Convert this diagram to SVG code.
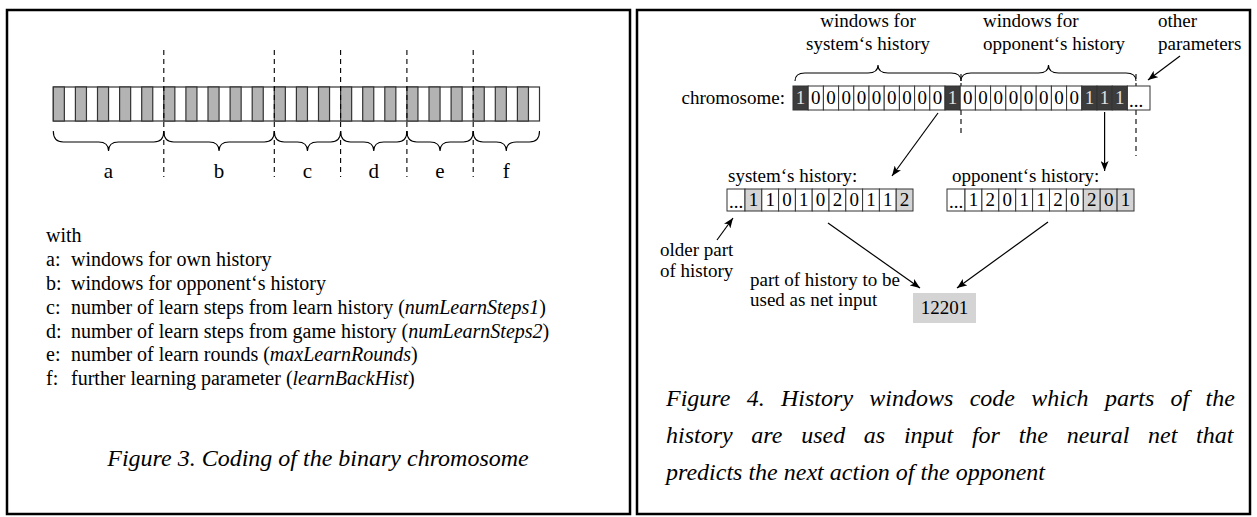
<svg xmlns="http://www.w3.org/2000/svg" width="1257" height="517" viewBox="0 0 1257 517" font-family="'Liberation Serif', 'Times New Roman', serif">
  <defs>
    <style>
      text { font-family: "Liberation Serif", "Times New Roman", serif; fill: #000; }
      .body { font-size: 19px; }
      .list { font-size: 20px; }
      .lab { font-size: 21px; }
      .cap { font-size: 24px; font-style: italic; }
      .it { font-style: italic; }
      .frame { fill: none; stroke: #000; stroke-width: 2.5; }
      .bar { fill: #fff; stroke: #333; stroke-width: 1.2; }
      .g { fill: #b3b3b3; stroke: #333; stroke-width: 1.2; }
      .dash { stroke: #000; stroke-width: 1.1; stroke-dasharray: 5 4; fill: none; }
      .brace { fill: none; stroke: #000; stroke-width: 1.1; }
      .cell { fill: #fff; stroke: #333; stroke-width: 1; }
      .dark { fill: #3c3c3c; stroke: #333; stroke-width: 1; }
      .light { fill: #d4d4d4; stroke: #333; stroke-width: 1; }
      .dig { font-size: 19px; text-anchor: middle; }
      .dd { fill: #e0e0e0; }
      .arrow { stroke: #000; stroke-width: 1.2; fill: none; marker-end: url(#ah); }
    </style>
    <marker id="ah" viewBox="0 0 10 8" refX="10" refY="4" markerWidth="10" markerHeight="8" markerUnits="userSpaceOnUse" orient="auto">
      <path d="M0,0 L10,4 L0,8 L2.5,4 z" fill="#000"/>
    </marker>
  </defs>

  <rect width="1257" height="517" fill="#fff"/>

  <!-- Figure 3: binary chromosome -->
  <g id="fig3">
    <rect class="frame" x="7" y="10" width="623" height="504"/>

    <g id="bar">
      <rect class="bar" x="53.3" y="87" width="486.2" height="34"/>
      <rect class="g" x="53.3" y="87" width="11.05" height="34"/>
      <rect class="g" x="75.4" y="87" width="11.05" height="34"/>
      <rect class="g" x="97.5" y="87" width="11.05" height="34"/>
      <rect class="g" x="119.6" y="87" width="11.05" height="34"/>
      <rect class="g" x="141.7" y="87" width="11.05" height="34"/>
      <rect class="g" x="163.8" y="87" width="11.05" height="34"/>
      <rect class="g" x="185.9" y="87" width="11.05" height="34"/>
      <rect class="g" x="208" y="87" width="11.05" height="34"/>
      <rect class="g" x="230.1" y="87" width="11.05" height="34"/>
      <rect class="g" x="252.2" y="87" width="11.05" height="34"/>
      <rect class="g" x="274.3" y="87" width="11.05" height="34"/>
      <rect class="g" x="296.4" y="87" width="11.05" height="34"/>
      <rect class="g" x="318.5" y="87" width="11.05" height="34"/>
      <rect class="g" x="340.6" y="87" width="11.05" height="34"/>
      <rect class="g" x="362.7" y="87" width="11.05" height="34"/>
      <rect class="g" x="384.8" y="87" width="11.05" height="34"/>
      <rect class="g" x="406.9" y="87" width="11.05" height="34"/>
      <rect class="g" x="429" y="87" width="11.05" height="34"/>
      <rect class="g" x="451.1" y="87" width="11.05" height="34"/>
      <rect class="g" x="473.2" y="87" width="11.05" height="34"/>
      <rect class="g" x="495.3" y="87" width="11.05" height="34"/>
      <rect class="g" x="517.4" y="87" width="11.05" height="34"/>
    </g>

    <g id="separators">
      <line class="dash" x1="163.8" y1="50" x2="163.8" y2="177"/>
      <line class="dash" x1="274.3" y1="50" x2="274.3" y2="177"/>
      <line class="dash" x1="340.6" y1="50" x2="340.6" y2="177"/>
      <line class="dash" x1="406.9" y1="50" x2="406.9" y2="177"/>
      <line class="dash" x1="473.2" y1="50" x2="473.2" y2="177"/>
    </g>

    <g id="segments">
      <path class="brace" d="M53.3,131 Q53.3,142 63.3,142 L98.55,142 Q108.55,142 108.55,151 Q108.55,142 118.55,142 L153.8,142 Q163.8,142 163.8,131"/>
      <path class="brace" d="M163.8,131 Q163.8,142 173.8,142 L209.05,142 Q219.05,142 219.05,151 Q219.05,142 229.05,142 L264.3,142 Q274.3,142 274.3,131"/>
      <path class="brace" d="M274.3,131 Q274.3,142 284.3,142 L297.45,142 Q307.45,142 307.45,151 Q307.45,142 317.45,142 L330.6,142 Q340.6,142 340.6,131"/>
      <path class="brace" d="M340.6,131 Q340.6,142 350.6,142 L363.75,142 Q373.75,142 373.75,151 Q373.75,142 383.75,142 L396.9,142 Q406.9,142 406.9,131"/>
      <path class="brace" d="M406.9,131 Q406.9,142 416.9,142 L430.05,142 Q440.05,142 440.05,151 Q440.05,142 450.05,142 L463.2,142 Q473.2,142 473.2,131"/>
      <path class="brace" d="M473.2,131 Q473.2,142 483.2,142 L496.35,142 Q506.35,142 506.35,151 Q506.35,142 516.35,142 L529.5,142 Q539.5,142 539.5,131"/>
      <text class="lab" x="108.5" y="178" text-anchor="middle">a</text>
      <text class="lab" x="219" y="178" text-anchor="middle">b</text>
      <text class="lab" x="307.5" y="178" text-anchor="middle">c</text>
      <text class="lab" x="373.7" y="178" text-anchor="middle">d</text>
      <text class="lab" x="440" y="178" text-anchor="middle">e</text>
      <text class="lab" x="506.3" y="178" text-anchor="middle">f</text>
    </g>

    <g id="legend" class="list">
      <text x="46" y="242">with</text>
      <text x="46" y="266">a:</text><text x="71" y="266">windows for own history</text>
      <text x="46" y="290">b:</text><text x="71" y="290">windows for opponent‘s history</text>
      <text x="46" y="313.5">c:</text><text x="71" y="313.5">number of learn steps from learn history (<tspan class="it">numLearnSteps1</tspan>)</text>
      <text x="46" y="337.5">d:</text><text x="71" y="337.5">number of learn steps from game history (<tspan class="it">numLearnSteps2</tspan>)</text>
      <text x="46" y="361">e:</text><text x="71" y="361">number of learn rounds (<tspan class="it">maxLearnRounds</tspan>)</text>
      <text x="46" y="385">f:</text><text x="71" y="385">further learning parameter (<tspan class="it">learnBackHist</tspan>)</text>
    </g>

    <text class="cap" x="318" y="466" text-anchor="middle">Figure 3. Coding of the binary chromosome</text>
  </g>

  <!-- Figure 4: history windows -->
  <g id="fig4">
    <rect class="frame" x="637" y="10" width="613" height="504"/>

    <g id="headers" class="body">
      <text x="868" y="27" text-anchor="middle">windows for</text>
      <text x="868" y="50" text-anchor="middle">system‘s history</text>
      <text x="983" y="27">windows for</text>
      <text x="983" y="50">opponent‘s history</text>
      <text x="1158" y="27">other</text>
      <text x="1158" y="50">parameters</text>
    </g>

    <g id="connectors">
      <line class="dash" x1="961" y1="74" x2="961" y2="134"/>
      <line class="dash" x1="1136" y1="74" x2="1136" y2="156"/>
      <path class="brace" d="M795,81 Q795,73 805,73 L868,73 Q878,73 878,65 Q878,73 888,73 L951,73 Q961,73 961,81"/>
      <path class="brace" d="M961,81 Q961,73 971,73 L1038.5,73 Q1048.5,73 1048.5,65 Q1048.5,73 1058.5,73 L1126,73 Q1136,73 1136,81"/>
      <line class="arrow" x1="1180" y1="56" x2="1148" y2="80"/>
      <line class="arrow" x1="938" y1="113" x2="892" y2="176"/>
      <line class="arrow" x1="1104.6" y1="112" x2="1104.6" y2="171"/>
      <line class="arrow" x1="717" y1="240" x2="733" y2="218"/>
      <line class="arrow" x1="828" y1="223" x2="920" y2="288"/>
      <line class="arrow" x1="1048" y1="222" x2="957" y2="288"/>
    </g>

    <g id="chromosome">
      <text class="body" x="785" y="104" text-anchor="end" font-size="20">chromosome:</text>
      <rect class="dark" x="793" y="86" width="15.2" height="24"/><text class="dig dd" x="800.6" y="104">1</text>
      <rect class="cell" x="808.2" y="86" width="15.2" height="24"/><text class="dig" x="815.8" y="104">0</text>
      <rect class="cell" x="823.4" y="86" width="15.2" height="24"/><text class="dig" x="831" y="104">0</text>
      <rect class="cell" x="838.6" y="86" width="15.2" height="24"/><text class="dig" x="846.2" y="104">0</text>
      <rect class="cell" x="853.8" y="86" width="15.2" height="24"/><text class="dig" x="861.4" y="104">0</text>
      <rect class="cell" x="869" y="86" width="15.2" height="24"/><text class="dig" x="876.6" y="104">0</text>
      <rect class="cell" x="884.2" y="86" width="15.2" height="24"/><text class="dig" x="891.8" y="104">0</text>
      <rect class="cell" x="899.4" y="86" width="15.2" height="24"/><text class="dig" x="907" y="104">0</text>
      <rect class="cell" x="914.6" y="86" width="15.2" height="24"/><text class="dig" x="922.2" y="104">0</text>
      <rect class="cell" x="929.8" y="86" width="15.2" height="24"/><text class="dig" x="937.4" y="104">0</text>
      <rect class="dark" x="945" y="86" width="15.2" height="24"/><text class="dig dd" x="952.6" y="104">1</text>
      <rect class="cell" x="960.2" y="86" width="15.2" height="24"/><text class="dig" x="967.8" y="104">0</text>
      <rect class="cell" x="975.4" y="86" width="15.2" height="24"/><text class="dig" x="983" y="104">0</text>
      <rect class="cell" x="990.6" y="86" width="15.2" height="24"/><text class="dig" x="998.2" y="104">0</text>
      <rect class="cell" x="1005.8" y="86" width="15.2" height="24"/><text class="dig" x="1013.4" y="104">0</text>
      <rect class="cell" x="1021" y="86" width="15.2" height="24"/><text class="dig" x="1028.6" y="104">0</text>
      <rect class="cell" x="1036.2" y="86" width="15.2" height="24"/><text class="dig" x="1043.8" y="104">0</text>
      <rect class="cell" x="1051.4" y="86" width="15.2" height="24"/><text class="dig" x="1059" y="104">0</text>
      <rect class="cell" x="1066.6" y="86" width="15.2" height="24"/><text class="dig" x="1074.2" y="104">0</text>
      <rect class="dark" x="1081.8" y="86" width="15.2" height="24"/><text class="dig dd" x="1089.4" y="104">1</text>
      <rect class="dark" x="1097" y="86" width="15.2" height="24"/><text class="dig dd" x="1104.6" y="104">1</text>
      <rect class="dark" x="1112.2" y="86" width="15.2" height="24"/><text class="dig dd" x="1119.8" y="104">1</text>
      <rect class="cell" x="1127.4" y="86" width="22.6" height="24"/><text class="dig" x="1136" y="107">...</text>
    </g>

    <g id="system-history">
      <text class="body" x="728" y="182">system‘s history:</text>
      <rect class="cell" x="727" y="189" width="18" height="22"/><text class="dig" x="736" y="208">...</text>
      <rect class="light" x="745" y="189" width="16.8" height="22"/><text class="dig" x="753.4" y="206">1</text>
      <rect class="cell" x="761.8" y="189" width="16.8" height="22"/><text class="dig" x="770.2" y="206">1</text>
      <rect class="cell" x="778.6" y="189" width="16.8" height="22"/><text class="dig" x="787" y="206">0</text>
      <rect class="cell" x="795.4" y="189" width="16.8" height="22"/><text class="dig" x="803.8" y="206">1</text>
      <rect class="cell" x="812.2" y="189" width="16.8" height="22"/><text class="dig" x="820.6" y="206">0</text>
      <rect class="cell" x="829" y="189" width="16.8" height="22"/><text class="dig" x="837.4" y="206">2</text>
      <rect class="cell" x="845.8" y="189" width="16.8" height="22"/><text class="dig" x="854.2" y="206">0</text>
      <rect class="cell" x="862.6" y="189" width="16.8" height="22"/><text class="dig" x="871" y="206">1</text>
      <rect class="cell" x="879.4" y="189" width="16.8" height="22"/><text class="dig" x="887.8" y="206">1</text>
      <rect class="light" x="896.2" y="189" width="16.8" height="22"/><text class="dig" x="904.6" y="206">2</text>
    </g>

    <g id="opponent-history">
      <text class="body" x="952" y="182">opponent‘s history:</text>
      <rect class="cell" x="947" y="189" width="18" height="22"/><text class="dig" x="956" y="208">...</text>
      <rect class="cell" x="965" y="189" width="16.9" height="22"/><text class="dig" x="973.45" y="206">1</text>
      <rect class="cell" x="981.9" y="189" width="16.9" height="22"/><text class="dig" x="990.35" y="206">2</text>
      <rect class="cell" x="998.8" y="189" width="16.9" height="22"/><text class="dig" x="1007.25" y="206">0</text>
      <rect class="cell" x="1015.7" y="189" width="16.9" height="22"/><text class="dig" x="1024.15" y="206">1</text>
      <rect class="cell" x="1032.6" y="189" width="16.9" height="22"/><text class="dig" x="1041.05" y="206">1</text>
      <rect class="cell" x="1049.5" y="189" width="16.9" height="22"/><text class="dig" x="1057.95" y="206">2</text>
      <rect class="cell" x="1066.4" y="189" width="16.9" height="22"/><text class="dig" x="1074.85" y="206">0</text>
      <rect class="light" x="1083.3" y="189" width="16.9" height="22"/><text class="dig" x="1091.75" y="206">2</text>
      <rect class="light" x="1100.2" y="189" width="16.9" height="22"/><text class="dig" x="1108.65" y="206">0</text>
      <rect class="light" x="1117.1" y="189" width="16.9" height="22"/><text class="dig" x="1125.55" y="206">1</text>
    </g>

    <g id="older-note" class="body">
      <text x="660" y="256">older part</text>
      <text x="660" y="277">of history</text>
    </g>

    <g id="net-input">
      <text class="body" x="750" y="286">part of history to be</text>
      <text class="body" x="750" y="306">used as net input</text>
      <rect x="913" y="293" width="63" height="30" fill="#d4d4d4"/>
      <text class="body" x="944.5" y="314" text-anchor="middle">12201</text>
    </g>

    <g id="caption4" class="cap">
      <text x="666" y="406" word-spacing="10.3">Figure 4. History windows code which parts of the</text>
      <text x="666" y="443" word-spacing="12.7">history are used as input for the neural net that</text>
      <text x="666" y="480">predicts the next action of the opponent</text>
    </g>
  </g>
</svg>
